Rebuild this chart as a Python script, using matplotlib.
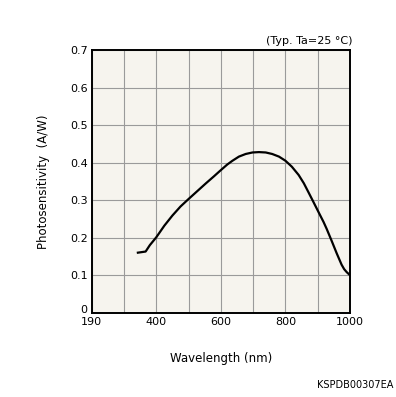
import matplotlib.pyplot as plt
import matplotlib.transforms as mtransforms

# spectral response
wavelength = [343, 367, 380, 400, 425, 450, 475, 500, 527, 554, 578, 600, 620, 636, 656,
              677, 698, 718, 739, 759, 780, 800, 820, 841, 857, 872, 888, 905, 918, 928,
              943, 959, 974, 982, 990, 1000]
sensitivity = [0.160, 0.163, 0.180, 0.201, 0.232, 0.259, 0.283, 0.303, 0.324, 0.345, 0.363,
               0.380, 0.395, 0.405, 0.416, 0.423, 0.427, 0.428, 0.427, 0.423, 0.416, 0.405,
               0.389, 0.367, 0.345, 0.320, 0.293, 0.264, 0.242, 0.223, 0.192, 0.158, 0.128,
               0.116, 0.108, 0.100]

x_ticks = [200, 400, 600, 800, 1000]
x_tick_labels = ['190', '400', '600', '800', '1000']
y_ticks = [0, 0.1, 0.2, 0.3, 0.4, 0.5, 0.6, 0.7]
y_tick_labels = ['0', '0.1', '0.2', '0.3', '0.4', '0.5', '0.6', '0.7']

fig = plt.figure(figsize=(3.96, 3.97), dpi=100)
ax = fig.add_axes([0.2316, 0.2123, 0.6522, 0.6617])
ax.set_facecolor('#f6f4ee')

ax.plot(wavelength, sensitivity, color='black', linewidth=1.6, zorder=3,
        solid_joinstyle='round')

ax.set_xlim(200, 1000)
ax.set_ylim(0, 0.7)
ax.set_xticks(x_ticks)
ax.set_xticklabels(x_tick_labels)
ax.set_xticks(range(300, 1000, 100), minor=True)
ax.set_yticks(y_ticks)
ax.set_yticklabels(y_tick_labels)
ax.tick_params(which='both', length=0, labelsize=8, pad=3)
ax.grid(True, which='both', color='#9a9a9a', linewidth=0.8)
for s in ax.spines.values():
    s.set_linewidth(1.4)

# lift the "0" label a little so it clears "190"
zero_lbl = ax.get_yticklabels()[0]
zero_lbl.set_transform(zero_lbl.get_transform() +
                       mtransforms.ScaledTranslation(0, 3 / 72, fig.dpi_scale_trans))

ax.set_xlabel('Wavelength (nm)', fontsize=8.5, labelpad=18)
ax.set_ylabel('Photosensitivity  (A/W)', fontsize=8.5, labelpad=14)

fig.text(352 / 396, 1 - 41 / 397, '(Typ. Ta=25 °C)', fontsize=8, ha='right', va='center')
fig.text(393 / 396, 1 - 385 / 397, 'KSPDB00307EA', fontsize=7, ha='right', va='center')

fig.savefig('out.png', dpi=100)
